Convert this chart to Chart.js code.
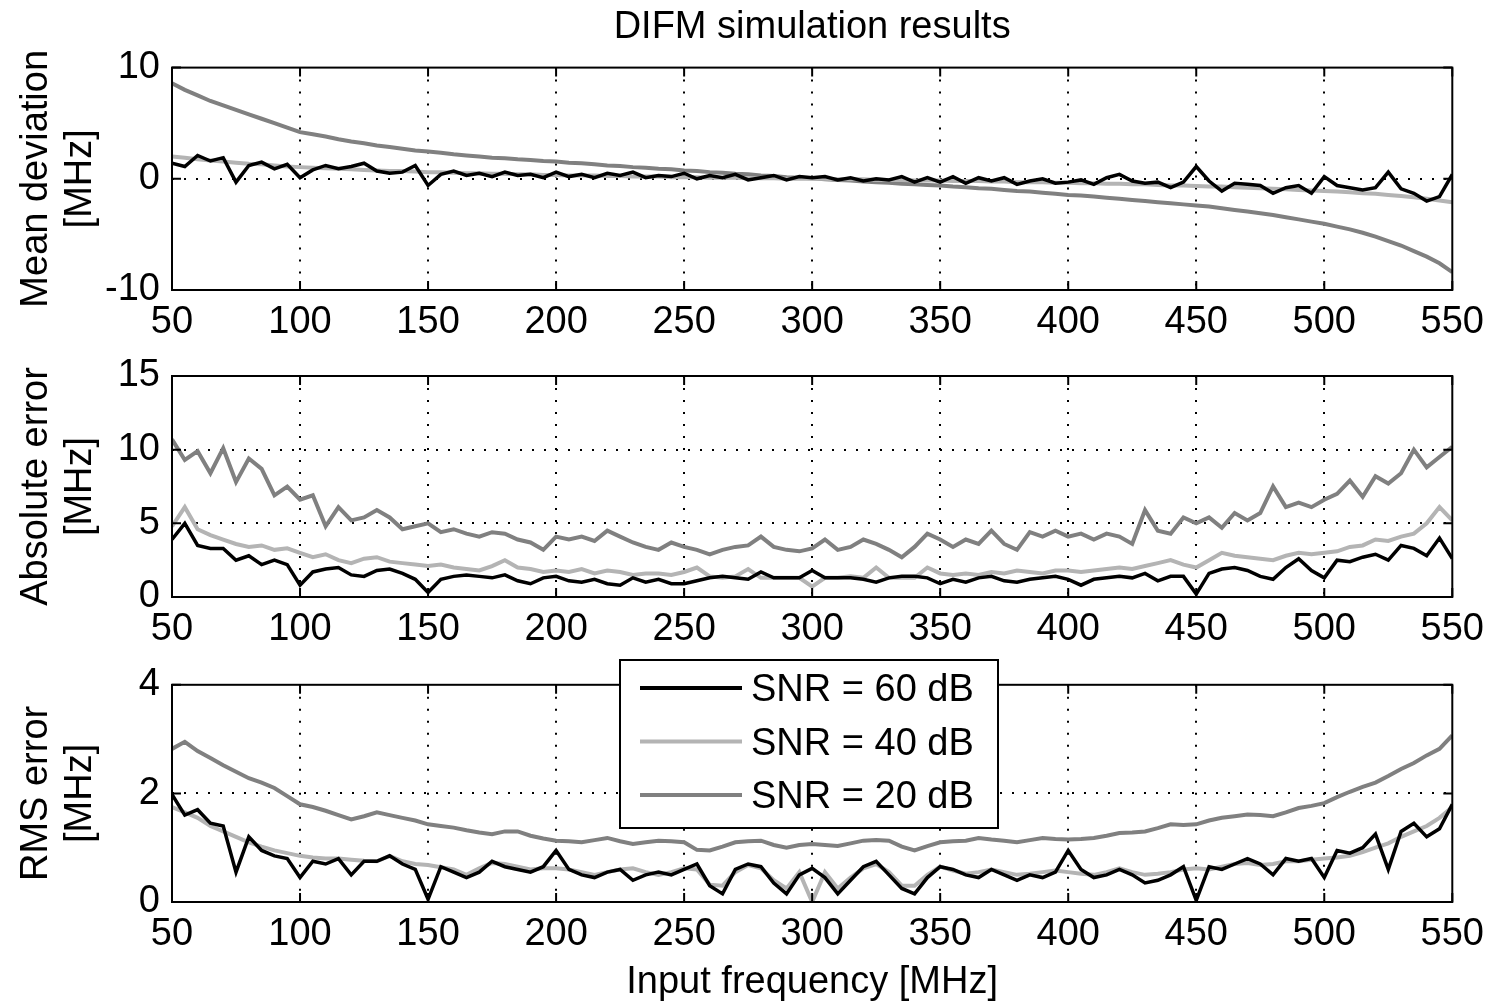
<!DOCTYPE html>
<html>
<head>
<meta charset="utf-8">
<script src="https://cdn.jsdelivr.net/npm/chart.js@4.4.1/dist/chart.umd.min.js"></script>
<style>
  body { margin: 0; background: #fff; }
  #wrap { position: relative; width: 1494px; height: 1008px; }
  canvas { position: absolute; left: 0; }
</style>
</head>
<body>
<div id="wrap">
  <canvas id="meanChart" width="1494" height="340" style="top:0px"></canvas>
  <canvas id="absChart" width="1494" height="310" style="top:340px"></canvas>
  <canvas id="rmsChart" width="1494" height="358" style="top:650px"></canvas>
</div>
<script>
// input frequency [MHz]
const freq = [
  50, 55, 60, 65, 70, 75, 80, 85, 90, 95,
  100, 105, 110, 115, 120, 125, 130, 135, 140, 145,
  150, 155, 160, 165, 170, 175, 180, 185, 190, 195,
  200, 205, 210, 215, 220, 225, 230, 235, 240, 245,
  250, 255, 260, 265, 270, 275, 280, 285, 290, 295,
  300, 305, 310, 315, 320, 325, 330, 335, 340, 345,
  350, 355, 360, 365, 370, 375, 380, 385, 390, 395,
  400, 405, 410, 415, 420, 425, 430, 435, 440, 445,
  450, 455, 460, 465, 470, 475, 480, 485, 490, 495,
  500, 505, 510, 515, 520, 525, 530, 535, 540, 545, 550
];

const snrLabels = ['SNR = 60 dB', 'SNR = 40 dB', 'SNR = 20 dB'];

// mean deviation [MHz]
const dev60 = [
  1.4, 1.1, 2.1, 1.6, 1.9, -0.3, 1.2, 1.5, 0.9, 1.3,
  0.1, 0.8, 1.2, 0.9, 1.1, 1.4, 0.7, 0.5, 0.6, 1.2,
  -0.6, 0.4, 0.7, 0.3, 0.5, 0.2, 0.6, 0.3, 0.4, 0.1,
  0.6, 0.2, 0.4, 0.1, 0.5, 0.3, 0.6, 0.1, 0.3, 0.2,
  0.5, 0.0, 0.3, 0.1, 0.4, -0.1, 0.1, 0.3, -0.1, 0.2,
  0.1, 0.2, -0.1, 0.1, -0.2, 0.0, -0.1, 0.2, -0.3, 0.1,
  -0.3, 0.2, -0.4, 0.1, -0.2, 0.1, -0.5, -0.2, 0.0, -0.4,
  -0.3, -0.1, -0.5, 0.1, 0.4, -0.2, -0.4, -0.3, -0.8, -0.3,
  1.1, -0.2, -1.1, -0.4, -0.5, -0.6, -1.3, -0.8, -0.6, -1.3,
  0.2, -0.6, -0.8, -1.0, -0.8, 0.6, -0.9, -1.3, -2.0, -1.6, 0.4
];
const dev40 = [
  2.0, 1.9, 1.75, 1.65, 1.55, 1.45, 1.35, 1.3, 1.2, 1.1,
  1.05, 1.0, 0.95, 0.9, 0.85, 0.8, 0.75, 0.7, 0.7, 0.65,
  0.6, 0.6, 0.55, 0.5, 0.5, 0.45, 0.45, 0.4, 0.4, 0.35,
  0.35, 0.3, 0.3, 0.3, 0.25, 0.25, 0.2, 0.2, 0.2, 0.15,
  0.15, 0.15, 0.1, 0.1, 0.1, 0.05, 0.05, 0.05, 0.0, 0.0,
  0.0, 0.0, -0.05, -0.05, -0.05, -0.1, -0.1, -0.1, -0.15, -0.15,
  -0.15, -0.2, -0.2, -0.2, -0.25, -0.25, -0.3, -0.3, -0.3, -0.35,
  -0.35, -0.4, -0.4, -0.45, -0.45, -0.5, -0.5, -0.55, -0.6, -0.6,
  -0.65, -0.7, -0.7, -0.75, -0.8, -0.85, -0.9, -0.95, -1.0, -1.05,
  -1.1, -1.15, -1.2, -1.3, -1.35, -1.45, -1.55, -1.65, -1.8, -1.95, -2.1
];
const dev20 = [
  8.6, 8.0, 7.5, 7.0, 6.6, 6.2, 5.8, 5.4, 5.0, 4.6,
  4.2, 4.0, 3.8, 3.55, 3.35, 3.2, 3.0, 2.85, 2.7, 2.55,
  2.45, 2.35, 2.2, 2.1, 2.0, 1.9, 1.85, 1.75, 1.7, 1.6,
  1.55, 1.45, 1.4, 1.3, 1.2, 1.15, 1.05, 1.0, 0.9, 0.85,
  0.75, 0.7, 0.6, 0.55, 0.45, 0.4, 0.3, 0.25, 0.15, 0.1,
  0.05, -0.05, -0.1, -0.15, -0.25, -0.3, -0.35, -0.45, -0.5, -0.55,
  -0.6, -0.7, -0.75, -0.85, -0.9, -1.0, -1.1, -1.15, -1.25, -1.35,
  -1.45, -1.5, -1.6, -1.7, -1.8, -1.9, -2.0, -2.1, -2.2, -2.3,
  -2.4, -2.5, -2.65, -2.8, -2.95, -3.1, -3.25, -3.45, -3.65, -3.85,
  -4.05, -4.3, -4.55, -4.85, -5.2, -5.6, -6.0, -6.5, -7.0, -7.6, -8.4
];

// absolute error [MHz]
const abs60 = [
  3.9, 5.0, 3.5, 3.3, 3.3, 2.5, 2.8, 2.2, 2.5, 2.2,
  0.8, 1.7, 1.9, 2.0, 1.5, 1.4, 1.8, 1.9, 1.6, 1.2,
  0.3, 1.2, 1.4, 1.5, 1.4, 1.3, 1.5, 1.1, 0.9, 1.3,
  1.4, 1.1, 1.0, 1.2, 0.9, 0.8, 1.3, 1.0, 1.2, 0.9,
  0.9, 1.1, 1.3, 1.4, 1.3, 1.2, 1.7, 1.3, 1.3, 1.3,
  1.8, 1.3, 1.3, 1.3, 1.2, 1.0, 1.3, 1.4, 1.4, 1.3,
  0.9, 1.2, 1.0, 1.3, 1.4, 1.1, 1.0, 1.2, 1.3, 1.4,
  1.2, 0.8, 1.2, 1.3, 1.4, 1.3, 1.6, 1.1, 1.4, 1.4,
  0.2, 1.6, 1.9, 2.0, 1.8, 1.4, 1.2, 2.0, 2.6, 1.8,
  1.3, 2.5, 2.4, 2.7, 2.9, 2.5, 3.5, 3.3, 2.8, 4.0, 2.6
];
const abs40 = [
  4.8, 6.1, 4.6, 4.2, 3.9, 3.6, 3.4, 3.5, 3.2, 3.3,
  3.0, 2.7, 2.9, 2.5, 2.3, 2.6, 2.7, 2.4, 2.3, 2.2,
  2.1, 2.2, 2.0, 1.9, 1.8, 2.1, 2.5, 2.0, 1.9, 1.7,
  1.8, 1.7, 1.9, 1.6, 1.8, 1.7, 1.5, 1.6, 1.6, 1.5,
  1.7, 2.0, 1.4, 1.3, 1.4, 1.9, 1.3, 1.3, 1.3, 1.3,
  0.7, 1.3, 1.3, 1.4, 1.3, 2.0, 1.3, 1.3, 1.3, 2.0,
  1.6, 1.5, 1.6, 1.5, 1.7, 1.6, 1.8, 1.7, 1.6, 1.8,
  1.8, 1.7, 1.8, 1.9, 2.0, 1.9, 2.1, 2.3, 2.5, 2.2,
  2.0, 2.5, 3.0, 2.8, 2.7, 2.6, 2.5, 2.8, 3.0, 2.9,
  3.0, 3.1, 3.4, 3.5, 3.9, 3.8, 4.1, 4.3, 5.0, 6.1, 5.2
];
const abs20 = [
  10.7, 9.3, 9.9, 8.4, 10.1, 7.8, 9.4, 8.7, 6.9, 7.5,
  6.6, 6.9, 4.8, 6.1, 5.2, 5.4, 5.9, 5.4, 4.6, 4.8,
  5.0, 4.4, 4.6, 4.3, 4.1, 4.4, 4.3, 3.9, 3.7, 3.2,
  4.1, 3.9, 4.1, 3.8, 4.5, 4.1, 3.7, 3.4, 3.2, 3.7,
  3.4, 3.2, 2.9, 3.2, 3.4, 3.5, 4.1, 3.4, 3.2, 3.1,
  3.3, 3.9, 3.2, 3.4, 3.9, 3.6, 3.2, 2.7, 3.4, 4.3,
  3.9, 3.4, 3.9, 3.6, 4.5, 3.6, 3.2, 4.4, 4.1, 4.5,
  4.1, 4.3, 3.9, 4.3, 4.1, 3.6, 5.9, 4.5, 4.3, 5.4,
  5.0, 5.4, 4.7, 5.7, 5.2, 5.7, 7.5, 6.1, 6.4, 6.1,
  6.6, 7.0, 7.9, 6.8, 8.2, 7.7, 8.4, 10.0, 8.8, 9.5, 10.2
];

// RMS error [MHz]
const rms60 = [
  1.98, 1.6, 1.7, 1.45, 1.4, 0.55, 1.2, 0.95, 0.85, 0.8,
  0.45, 0.75, 0.7, 0.8, 0.5, 0.75, 0.75, 0.85, 0.7, 0.6,
  0.05, 0.65, 0.55, 0.45, 0.55, 0.75, 0.65, 0.6, 0.55, 0.65,
  0.95, 0.6, 0.5, 0.45, 0.55, 0.6, 0.4, 0.5, 0.55, 0.5,
  0.6, 0.7, 0.3, 0.15, 0.6, 0.7, 0.65, 0.35, 0.15, 0.5,
  0.62, 0.45, 0.15, 0.4, 0.65, 0.75, 0.5, 0.25, 0.15, 0.45,
  0.65, 0.6, 0.5, 0.45, 0.6, 0.5, 0.4, 0.5, 0.45, 0.55,
  0.95, 0.6, 0.45, 0.5, 0.6, 0.5, 0.35, 0.4, 0.5, 0.65,
  0.03, 0.65, 0.6, 0.7, 0.8, 0.7, 0.5, 0.8, 0.75, 0.8,
  0.45, 0.95, 0.9, 1.0, 1.25, 0.6, 1.3, 1.45, 1.2, 1.35, 1.8
];
const rms40 = [
  1.75, 1.65, 1.55, 1.4, 1.3, 1.2, 1.1, 1.02, 0.95, 0.9,
  0.85, 0.82, 0.8, 0.8, 0.78, 0.76, 0.75, 0.85, 0.75, 0.7,
  0.68, 0.64, 0.6, 0.5, 0.62, 0.72, 0.7, 0.65, 0.6, 0.62,
  0.62, 0.6, 0.55, 0.5, 0.55, 0.6, 0.62, 0.55, 0.5, 0.55,
  0.62, 0.6, 0.32, 0.3, 0.55, 0.68, 0.62, 0.4, 0.25, 0.55,
  0.0, 0.55, 0.25, 0.45, 0.62, 0.7, 0.55, 0.3, 0.3, 0.5,
  0.65, 0.58, 0.52, 0.55, 0.6, 0.55, 0.5, 0.52, 0.55, 0.58,
  0.55, 0.52, 0.5, 0.55, 0.62, 0.55, 0.5, 0.52, 0.55, 0.6,
  0.62, 0.6, 0.65, 0.7, 0.72, 0.68, 0.7, 0.75, 0.75, 0.78,
  0.8, 0.82, 0.85, 0.92, 1.0, 1.08, 1.2, 1.3, 1.4, 1.55, 1.75
];
const rms20 = [
  2.82, 2.95, 2.78, 2.65, 2.52, 2.4, 2.28, 2.2, 2.1, 1.95,
  1.8, 1.75, 1.68, 1.6, 1.52, 1.58, 1.65, 1.6, 1.55, 1.5,
  1.43, 1.4, 1.37, 1.32, 1.28, 1.25, 1.3, 1.3, 1.22, 1.17,
  1.13, 1.12, 1.1, 1.14, 1.18, 1.12, 1.07, 1.1, 1.13, 1.12,
  1.1, 0.96, 0.95, 1.02, 1.1, 1.12, 1.13, 1.05, 1.0, 1.05,
  1.07, 1.05, 1.03, 1.08, 1.13, 1.14, 1.13, 1.02, 0.95, 1.03,
  1.1, 1.12, 1.13, 1.18, 1.15, 1.13, 1.1, 1.14, 1.18, 1.16,
  1.15, 1.16, 1.18, 1.22, 1.27, 1.28, 1.3, 1.36, 1.43, 1.42,
  1.43, 1.5, 1.55, 1.58, 1.61, 1.6, 1.58, 1.65, 1.73, 1.77,
  1.82, 1.93, 2.03, 2.12, 2.2, 2.32, 2.45, 2.56, 2.7, 2.82, 3.07
];

const FONT = "'Liberation Sans', Arial, Helvetica, sans-serif";
const colors = ['#000000', '#b4b4b4', '#808080'];

const pts = arr => freq.map((f, i) => ({ x: f, y: arr[i] }));

function datasets(s60, s40, s20) {
  return [s60, s40, s20].map((s, i) => ({
    label: snrLabels[i],
    data: pts(s),
    borderColor: colors[i],
    borderWidth: i === 0 ? 3.5 : 4,
    pointRadius: 0,
    fill: false,
    tension: 0
  }));
}

// MATLAB style box with inward ticks
const boxTicks = {
  id: 'boxTicks',
  afterDraw(chart) {
    const { ctx, chartArea: a, scales: { x, y } } = chart;
    ctx.save();
    ctx.strokeStyle = '#000';
    ctx.lineWidth = 2;
    ctx.strokeRect(a.left, a.top, a.right - a.left, a.bottom - a.top);
    ctx.beginPath();
    x.ticks.forEach(t => {
      const px = x.getPixelForValue(t.value);
      ctx.moveTo(px, a.bottom); ctx.lineTo(px, a.bottom - 9);
      ctx.moveTo(px, a.top); ctx.lineTo(px, a.top + 9);
    });
    y.ticks.forEach(t => {
      const py = y.getPixelForValue(t.value);
      ctx.moveTo(a.left, py); ctx.lineTo(a.left + 9, py);
      ctx.moveTo(a.right, py); ctx.lineTo(a.right - 9, py);
    });
    ctx.stroke();
    ctx.restore();
  }
};

const boxLegend = {
  id: 'boxLegend',
  afterDraw(chart, args, o) {
    if (!o.show) return;
    const ctx = chart.ctx;
    ctx.save();
    ctx.fillStyle = '#fff';
    ctx.fillRect(o.x, o.y, o.w, o.h);
    ctx.strokeStyle = '#000';
    ctx.lineWidth = 2;
    ctx.strokeRect(o.x, o.y, o.w, o.h);
    ctx.font = '38px ' + FONT;
    ctx.textBaseline = 'middle';
    chart.data.datasets.forEach((ds, i) => {
      const cy = o.y + o.first + i * o.gap;
      ctx.strokeStyle = ds.borderColor;
      ctx.lineWidth = 4;
      ctx.beginPath();
      ctx.moveTo(o.x + 20, cy);
      ctx.lineTo(o.x + 122, cy);
      ctx.stroke();
      ctx.fillStyle = '#000';
      ctx.fillText(ds.label, o.x + 131, cy + 3);
    });
    ctx.restore();
  }
};

function makePanel(id, cfg) {
  const [ymin, ymax] = cfg.yRange;
  const edgeless = (lo, hi) => c =>
    (c.tick && (c.tick.value === lo || c.tick.value === hi)) ? 'rgba(0,0,0,0)' : '#000';
  return new Chart(document.getElementById(id), {
    type: 'line',
    data: { datasets: cfg.data },
    plugins: [boxTicks, boxLegend],
    options: {
      responsive: false,
      animation: false,
      events: [],
      layout: { padding: { top: cfg.padTop, right: 41, left: 0, bottom: 0 } },
      plugins: {
        legend: { display: false },
        tooltip: { enabled: false },
        title: cfg.title ? {
          display: true,
          fullSize: false,
          text: cfg.title,
          color: '#000',
          font: { family: FONT, size: 38, weight: 'normal' },
          padding: { top: 5, bottom: 17 }
        } : { display: false },
        boxLegend: cfg.legend || { show: false }
      },
      scales: {
        x: {
          type: 'linear',
          min: 50, max: 550,
          afterFit: s => { s.height = cfg.xHeight; },
          ticks: {
            stepSize: 50, autoSkip: false, maxRotation: 0,
            color: '#000', padding: 10,
            font: { family: FONT, size: 38 }
          },
          grid: { color: edgeless(50, 550), lineWidth: 2, drawTicks: false },
          border: { display: false, dash: [2, 10] },
          title: cfg.xTitle ? {
            display: true, text: cfg.xTitle, color: '#000',
            font: { family: FONT, size: 38, lineHeight: 1.15 },
            padding: { top: 0, bottom: 4 }
          } : { display: false }
        },
        y: {
          min: ymin, max: ymax,
          afterFit: s => { s.width = 172; },
          ticks: {
            stepSize: cfg.yStep, color: '#000', padding: 12,
            font: { family: FONT, size: 38 }
          },
          grid: { color: edgeless(ymin, ymax), lineWidth: 2, drawTicks: false },
          border: { display: false, dash: [2, 10] },
          title: {
            display: true, text: cfg.yTitle, color: '#000',
            font: { family: FONT, size: 38, lineHeight: 1.15 },
            padding: { top: 15, bottom: 0 }
          }
        }
      }
    }
  });
}

makePanel('meanChart', {
  data: datasets(dev60, dev40, dev20),
  title: 'DIFM simulation results',
  padTop: 0, xHeight: 50,
  yRange: [-10, 10], yStep: 10,
  yTitle: ['Mean deviation', '[MHz]']
});

makePanel('absChart', {
  data: datasets(abs60, abs40, abs20),
  padTop: 36, xHeight: 53,
  yRange: [0, 15], yStep: 5,
  yTitle: ['Absolute error', '[MHz]']
});

makePanel('rmsChart', {
  data: datasets(rms60, rms40, rms20),
  padTop: 32, xHeight: 106,
  yRange: [0, 4], yStep: 2,
  yTitle: ['RMS error', '[MHz]'],
  xTitle: 'Input frequency [MHz]',
  legend: { show: true, x: 620, y: 10, w: 378, h: 168, first: 28, gap: 53.5 }
});
</script>
</body>
</html>
